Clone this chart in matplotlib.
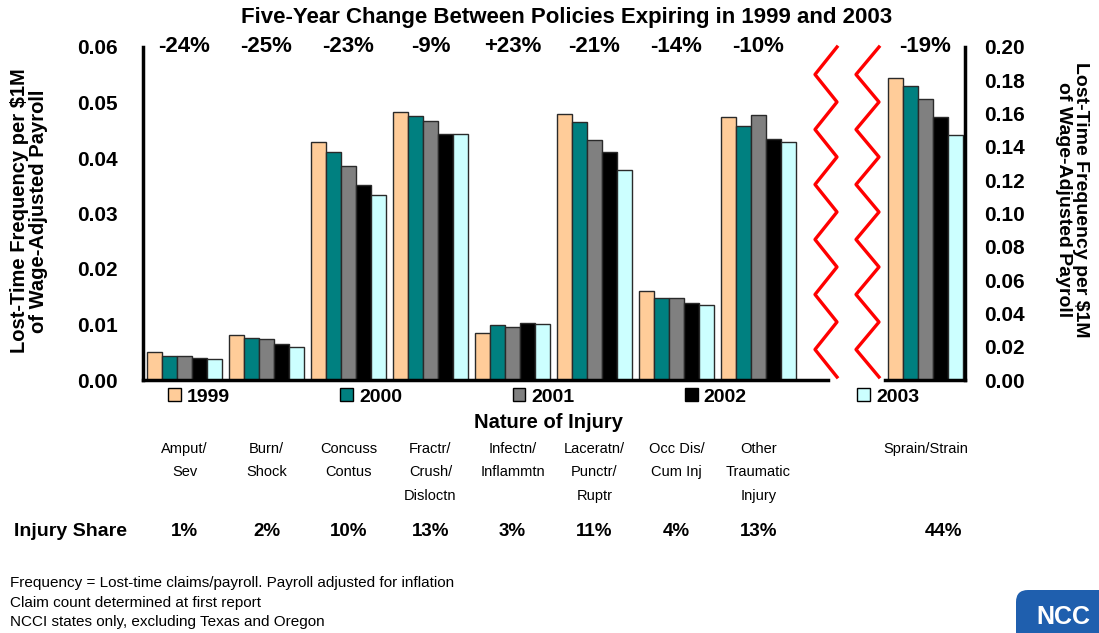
import numpy as np
import matplotlib.pyplot as plt
from matplotlib.patches import Patch, FancyBboxPatch
from matplotlib.lines import Line2D
from matplotlib.transforms import blended_transform_factory

plt.rcParams['font.family'] = ['Liberation Sans', 'DejaVu Sans']

W, H = 1099, 633

years = ['1999', '2000', '2001', '2002', '2003']
colors = ['#FFCC99', '#008080', '#808080', '#000000', '#CCFFFF']

categories = ['Amput/\nSev', 'Burn/\nShock', 'Concuss\nContus', 'Fractr/\nCrush/\nDisloctn',
              'Infectn/\nInflammtn', 'Laceratn/\nPunctr/\nRuptr', 'Occ Dis/\nCum Inj',
              'Other\nTraumatic\nInjury']
freq_1999 = [0.0050, 0.0081, 0.0428, 0.0482, 0.0084, 0.0479, 0.0160, 0.0473]
freq_2000 = [0.0044, 0.0075, 0.0410, 0.0476, 0.0099, 0.0464, 0.0147, 0.0458]
freq_2001 = [0.0044, 0.0073, 0.0385, 0.0467, 0.0096, 0.0433, 0.0147, 0.0477]
freq_2002 = [0.0039, 0.0064, 0.0352, 0.0444, 0.0102, 0.0410, 0.0139, 0.0434]
freq_2003 = [0.0038, 0.0060, 0.0333, 0.0443, 0.0101, 0.0378, 0.0135, 0.0428]
changes = ['-24%', '-25%', '-23%', '-9%', '+23%', '-21%', '-14%', '-10%']
shares = ['1%', '2%', '10%', '13%', '3%', '11%', '4%', '13%']

sprain_label = 'Sprain/Strain'
sprain_freq = [0.1816, 0.1768, 0.1688, 0.1578, 0.1473]
sprain_change = '-19%'
sprain_share = '44%'

notes = ['Frequency = Lost-time claims/payroll. Payroll adjusted for inflation',
         'Claim count determined at first report',
         'NCCI states only, excluding Texas and Oregon']


def fx(px):
    return px / W


def fy(py):
    return 1 - py / H


fig = plt.figure(figsize=(W / 100, H / 100), dpi=100)
top, base = 47, 380
ax1 = fig.add_axes([fx(143), fy(base), fx(828 - 143), (base - top) / H])
ax2 = fig.add_axes([fx(885), fy(base), fx(965 - 885), (base - top) / H])

series = [freq_1999, freq_2000, freq_2001, freq_2002, freq_2003]
bw = 0.183
x = np.arange(len(categories))
for k, vals in enumerate(series):
    ax1.bar(x - 2.5 * bw + k * bw, vals, bw, align='edge', color=colors[k],
            edgecolor='#2a2a2a', linewidth=1)
    ax2.bar(-2.5 * bw + k * bw, sprain_freq[k], bw, align='edge', color=colors[k],
            edgecolor='#2a2a2a', linewidth=1)

ax1.set_xlim(-0.506, 7.848)
ax1.set_ylim(0, 0.06)
ax1.set_yticks(np.arange(0, 0.061, 0.01))
ax1.yaxis.set_major_formatter(plt.FormatStrFormatter('%.2f'))
ax1.set_xticks([])
ax1.tick_params(axis='y', length=0, pad=18, labelsize=15)
for s in ['top', 'right']:
    ax1.spines[s].set_visible(False)
for s in ['left', 'bottom']:
    ax1.spines[s].set_linewidth(2.5)

ax2.set_xlim(-0.494, 0.482)
ax2.set_ylim(0, 0.20)
ax2.set_yticks(np.arange(0, 0.201, 0.02))
ax2.yaxis.set_major_formatter(plt.FormatStrFormatter('%.2f'))
ax2.yaxis.tick_right()
ax2.set_xticks([])
ax2.tick_params(axis='y', length=0, pad=14, labelsize=15)
for s in ['top', 'left']:
    ax2.spines[s].set_visible(False)
for s in ['right', 'bottom']:
    ax2.spines[s].set_linewidth(2.5)
for lab in ax1.get_yticklabels() + ax2.get_yticklabels():
    lab.set_fontweight('bold')

# change labels above each group
for i, c in enumerate(changes):
    ax1.text(i, 0.06, c, ha='center', va='center', fontsize=16, fontweight='bold')
ax2.text(0, 0.20, sprain_change, ha='center', va='center', fontsize=16, fontweight='bold')

# category names and injury shares under the chart
t1 = blended_transform_factory(ax1.transData, fig.transFigure)
t2 = blended_transform_factory(ax2.transData, fig.transFigure)
for i, name in enumerate(categories):
    ax1.text(i, fy(442), name, transform=t1, ha='center', va='top', fontsize=10.5,
             linespacing=1.85, clip_on=False)
    ax1.text(i, fy(532), shares[i], transform=t1, ha='center', va='center',
             fontsize=13.5, fontweight='bold', clip_on=False)
ax2.text(0, fy(442), sprain_label, transform=t2, ha='center', va='top', fontsize=10.5,
         clip_on=False)
ax2.text(0.22, fy(532), sprain_share, transform=t2, ha='center', va='center',
         fontsize=13.5, fontweight='bold', clip_on=False)
fig.text(fx(14), fy(532), 'Injury Share', ha='left', va='center', fontsize=14,
         fontweight='bold')

# title and axis labels
fig.text(fx(567), fy(18), 'Five-Year Change Between Policies Expiring in 1999 and 2003',
         ha='center', va='center', fontsize=16, fontweight='bold')
fig.text(fx(549), fy(422), 'Nature of Injury', ha='center', va='center', fontsize=14.5,
         fontweight='bold')
ylab = 'Lost-Time Frequency per $1M\nof Wage-Adjusted Payroll'
fig.text(fx(29), fy(211), ylab, rotation=90, ha='center', va='center', fontsize=14.5,
         fontweight='bold', multialignment='center', linespacing=1.0)
fig.text(fx(1072), fy(200), ylab, rotation=270, ha='center', va='center', fontsize=14,
         fontweight='bold', multialignment='center', linespacing=1.0)

# legend
handles = [Patch(facecolor=c, edgecolor='black', linewidth=1) for c in colors]
fig.legend(handles, years, loc='center left', bbox_to_anchor=(fx(168), fy(397)), ncol=5,
           frameon=False, prop={'size': 14, 'weight': 'bold'}, handlelength=0.65,
           handleheight=0.65, handletextpad=0.3, columnspacing=5.7, borderpad=0,
           borderaxespad=0)

# axis-break zigzags
zy = np.linspace(top, base - 3, 13)
for x0, x1 in [(815, 837), (856, 879)]:
    zx = np.where(np.arange(13) % 2 == 0, x1, x0)
    fig.add_artist(Line2D(fx(zx), fy(zy), color='red', linewidth=2.4,
                          transform=fig.transFigure))

# footnotes
for j, note in enumerate(notes):
    fig.text(fx(10), fy(583 + 19.5 * j), note, ha='left', va='center', fontsize=11)

# logo
fig.add_artist(FancyBboxPatch((10.16, -0.3), 1.2, 0.73,
                              boxstyle='round,pad=0,rounding_size=0.12',
                              transform=fig.dpi_scale_trans, facecolor='#1f5fae',
                              edgecolor='none'))
fig.text(fx(1036), fy(617), 'NCC', ha='left', va='center', fontsize=18,
         fontweight='bold', color='white')

fig.savefig('out.png', dpi=100)
